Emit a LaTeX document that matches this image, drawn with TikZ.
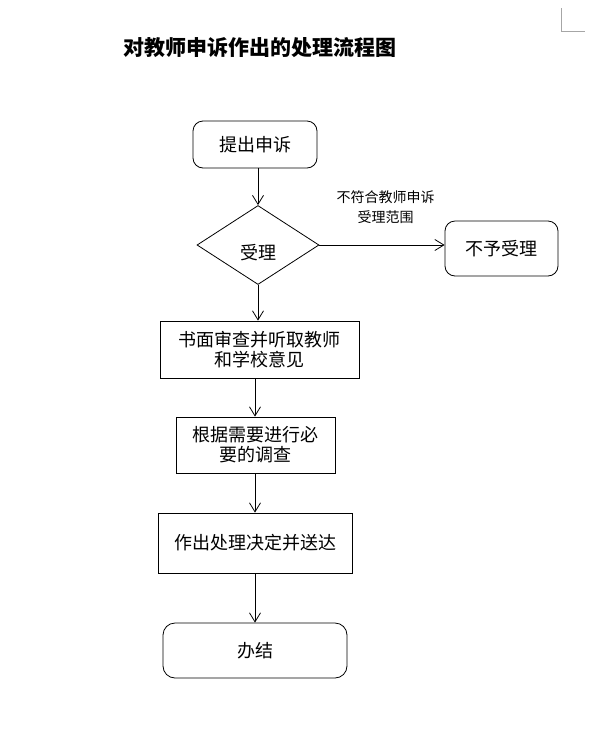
\documentclass[tikz,border=0pt]{standalone}
\usepackage{fontspec}
\newfontfamily\cjk{Noto Sans CJK SC}
\usepackage{tikz}
\usetikzlibrary{shapes.geometric, arrows.meta, positioning}

\begin{document}
\begin{tikzpicture}[
    x=1pt, y=-1pt,
    startstop/.style={rectangle, rounded corners=10pt, draw=black, line width=0.8pt, inner sep=0pt, align=center, font=\cjk\fontsize{18}{20}\selectfont},
    process/.style={rectangle, draw=black, line width=0.8pt, inner sep=0pt, align=center, font=\cjk\fontsize{18}{20}\selectfont},
    decision/.style={diamond, draw=black, line width=0.8pt, inner sep=0pt, minimum width=122pt, minimum height=79pt},
    note/.style={align=center, inner sep=0pt, font=\cjk\fontsize{14}{20}\selectfont},
    arrow/.style={-{Straight Barb[length=9pt, width=11pt]}, line width=0.8pt, draw=black}
]

\useasboundingbox (0,0) rectangle (591,732);

% page corner mark
\draw[black!35, line width=0.8pt] (561,8) -- (561,31) -- (585,31);

\node[font=\cjk\bfseries\fontsize{21}{24}\selectfont, inner sep=0pt] (title) at (260,48) {对教师申诉作出的处理流程图};

\node[startstop, minimum width=124pt, minimum height=47pt] (submit) at (255,144.5) {提出申诉};
\node[decision] (accept) at (258,245) {};
\node[font=\cjk\fontsize{18}{20}\selectfont, inner sep=0pt] (acceptText) at (258,253) {受理};
\node[startstop, minimum width=113pt, minimum height=55pt] (reject) at (501.5,248.5) {不予受理};
\node[note] (rejectNote) at (385.5,207) {不符合教师申诉\\受理范围};

\node[process, minimum width=199pt, minimum height=57pt] (review) at (259.5,349.5) {书面审查并听取教师\\和学校意见};
\node[process, minimum width=159pt, minimum height=56pt] (investigate) at (255.5,445) {根据需要进行必\\要的调查};
\node[process, minimum width=194pt, minimum height=60pt] (decide) at (255,543) {作出处理决定并送达};
\node[startstop, minimum width=184pt, minimum height=55pt, rounded corners=12pt] (finish) at (255,650.5) {办结};

\draw[arrow] (accept.north |- submit.south) -- (accept.north);
\draw[arrow] (accept.east) -- (accept.east -| reject.west);
\draw[arrow] (accept.south) -- (accept.south |- review.north);
\draw[arrow] (decide.north |- review.south) -- (decide.north |- investigate.north);
\draw[arrow] (decide.north |- investigate.south) -- (decide.north);
\draw[arrow] (decide.south) -- (decide.south |- finish.north);

\end{tikzpicture}
\end{document}
